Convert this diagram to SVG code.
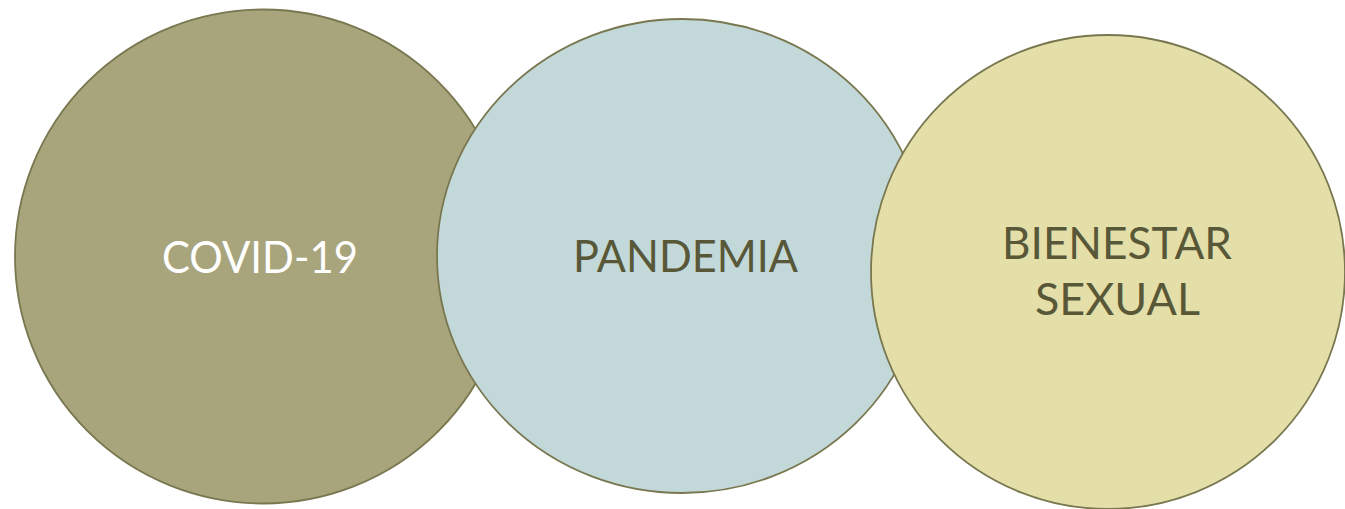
<svg xmlns="http://www.w3.org/2000/svg" width="1345" height="509" viewBox="0 0 1345 509">
<style>
.c{stroke:#78774F;stroke-width:1.8}
.t{font-family:Lato,"Open Sans","Liberation Sans",sans-serif;font-size:45px;text-anchor:middle;fill:#585838}
</style>
<rect width="1345" height="509" fill="#FFFFFF"/>
<g id="connectors"></g>
<g id="covid">
<ellipse class="c" cx="263" cy="256.5" rx="248" ry="247" fill="#A8A47C"/>
<text class="t" x="260" y="273" style="fill:#FFFFFF" textLength="196" lengthAdjust="spacingAndGlyphs">COVID-19</text>
</g>
<g id="pandemia">
<ellipse class="c" cx="682" cy="256" rx="245" ry="237" fill="#C3D8D8"/>
<text class="t" x="685.5" y="272" textLength="225" lengthAdjust="spacingAndGlyphs">PANDEMIA</text>
</g>
<g id="bienestar">
<circle class="c" cx="1108" cy="272" r="237" fill="#E4DFA8"/>
<text class="t" x="1117" y="259" textLength="230" lengthAdjust="spacingAndGlyphs">BIENESTAR</text>
<text class="t" x="1117.5" y="315" textLength="165" lengthAdjust="spacingAndGlyphs">SEXUAL</text>
</g>
</svg>
